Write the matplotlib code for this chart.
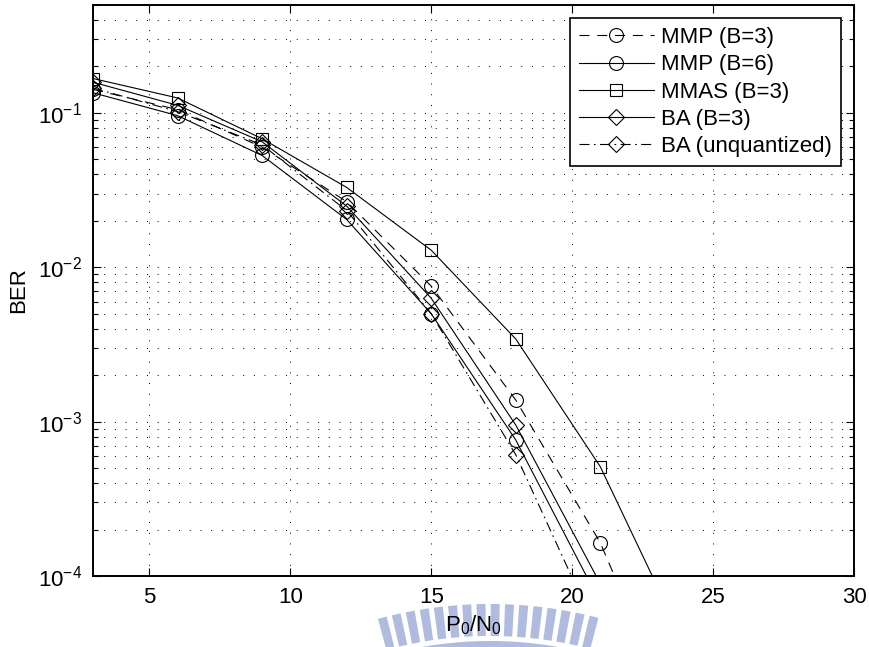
import numpy as np
import matplotlib
matplotlib.use("Agg")
import matplotlib.pyplot as plt
from matplotlib.patches import Wedge
from matplotlib.ticker import LogLocator, NullFormatter, FixedLocator

plt.rcParams['font.family'] = ['Liberation Sans', 'DejaVu Sans']
plt.rcParams['mathtext.fontset'] = 'custom'
plt.rcParams['mathtext.rm'] = 'Liberation Sans'
plt.rcParams['mathtext.it'] = 'Liberation Sans'
plt.rcParams['mathtext.default'] = 'regular'

# ---------------- data ----------------
snr_db = [3, 6, 9, 12, 15, 18, 21, 24]
mmp_b3 = [0.142, 0.105, 0.060, 0.0266, 0.00755, 0.00138, 0.000164, 8.5e-6]
mmp_b6 = [0.135, 0.096, 0.053, 0.0204, 0.0050, 0.00076, 6.7e-5]
mmas_b3 = [0.167, 0.125, 0.068, 0.0329, 0.0129, 0.00343, 0.00051, 3.6e-5]
ba_b3 = [0.158, 0.112, 0.065, 0.0249, 0.0063, 0.00095, 8.9e-5]
ba_unq = [0.145, 0.102, 0.062, 0.0233, 0.0050, 0.00061, 3.9e-5]
labels = ['MMP (B=3)', 'MMP (B=6)', 'MMAS (B=3)', 'BA (B=3)', 'BA (unquantized)']
x_ticks = [5, 10, 15, 20, 25, 30]

W, H = 869, 647
fig = plt.figure(figsize=(W / 100, H / 100), dpi=100)

# background watermark (light blue seal fragment), in pixel coordinates
bg = fig.add_axes([0, 0, 1, 1], zorder=-5)
bg.set_xlim(0, W)
bg.set_ylim(H, 0)
bg.axis('off')
wm = '#b0bcdf'
cx, cy, R = 490, 604 + 430, 430
for ang in np.arange(270 - 14.5, 270 + 14.51, 1.9):
    bg.add_patch(Wedge((cx, cy), R, ang - 0.6, ang + 0.6, width=32,
                       facecolor=wm, edgecolor='none'))
bg.add_patch(Wedge((cx, cy), R - 37, 270 - 15, 270 + 15, width=12,
                   facecolor=wm, edgecolor='none'))

ax = fig.add_axes([93 / W, 1 - 576 / H, (854 - 93) / W, (576 - 5) / H])
ax.patch.set_alpha(0)

lw = 0.8
mk = dict(markerfacecolor='none', markeredgecolor='black', markeredgewidth=0.8)
n = len
ax.semilogy(snr_db[:n(mmp_b3)], mmp_b3, color='black', lw=lw, dashes=(9, 7),
            marker='o', ms=10, label=labels[0], **mk)
ax.semilogy(snr_db[:n(mmp_b6)], mmp_b6, color='black', lw=lw, ls='-',
            marker='o', ms=10, label=labels[1], **mk)
ax.semilogy(snr_db[:n(mmas_b3)], mmas_b3, color='black', lw=lw, ls='-',
            marker='s', ms=9, label=labels[2], **mk)
ax.semilogy(snr_db[:n(ba_b3)], ba_b3, color='black', lw=lw, ls='-',
            marker='D', ms=8.5, label=labels[3], **mk)
ax.semilogy(snr_db[:n(ba_unq)], ba_unq, color='black', lw=lw, dashes=(9, 4, 1.5, 4),
            marker='D', ms=8.5, label=labels[4], **mk)

ax.set_xlim(3, 30)
ax.set_ylim(1e-4, 0.5)
ax.xaxis.set_major_locator(FixedLocator(x_ticks))
ax.yaxis.set_major_locator(LogLocator(base=10, numticks=10))
ax.yaxis.set_minor_locator(LogLocator(base=10, subs=np.arange(2, 10), numticks=20))
ax.yaxis.set_minor_formatter(NullFormatter())

grid_kw = dict(color='black', lw=0.7, linestyle=(0, (1, 10)))
ax.grid(True, which='major', axis='x', **grid_kw)
ax.grid(True, which='both', axis='y', **grid_kw)

ax.tick_params(which='both', direction='in', top=True, right=True,
               labelsize=16, colors='black', pad=8)
ax.tick_params(which='major', length=6, width=0.8)
ax.tick_params(which='minor', length=3.5, width=0.8)
for sp in ax.spines.values():
    sp.set_linewidth(1.4)

ax.set_xlabel(r'P$_0$/N$_0$', fontsize=16, labelpad=4)
ax.set_ylabel('BER', fontsize=16, labelpad=6)

leg = ax.legend(loc='upper right', fontsize=16, frameon=True, fancybox=False,
                edgecolor='black', framealpha=1, handlelength=3.4,
                handletextpad=0.3, labelspacing=0.28, borderpad=0.4,
                borderaxespad=0.6)
leg.get_frame().set_linewidth(1.2)

fig.savefig('out.png', dpi=100)
